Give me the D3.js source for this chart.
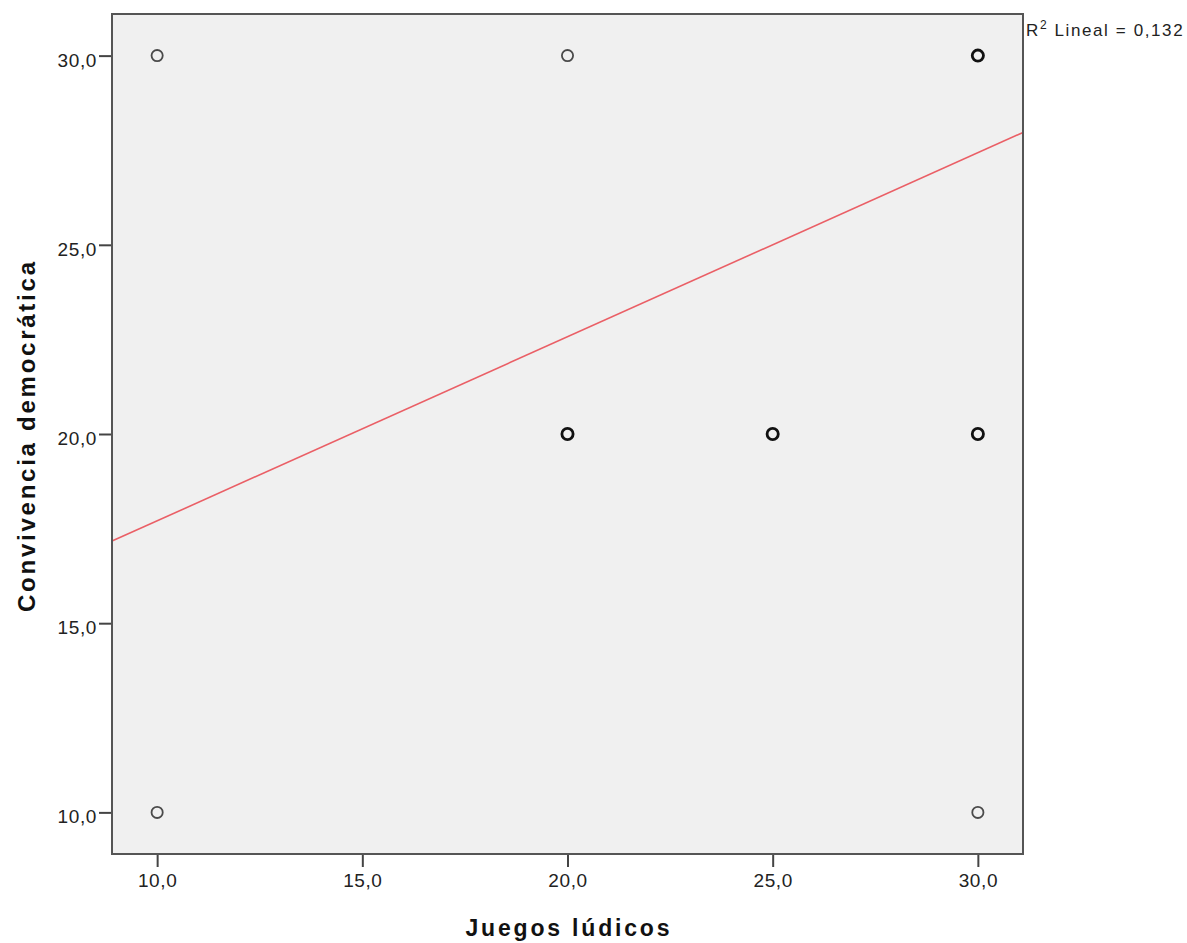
<!DOCTYPE html>
<meta charset="utf-8">
<script src="https://d3js.org/d3.v7.min.js"></script>
<style>
    body {margin: 0; background: #fff; font-family: 'Liberation Sans', Arial, sans-serif;}
    .tick text {font-size: 19px; letter-spacing: 0.6px; fill: #222;}
</style>
<body>
<svg width="1187" height="943"></svg>
<script>
    // data
    const juegos = [10, 10, 20, 20, 25, 30, 30, 30];
    const convivencia = [30, 10, 30, 20, 20, 30, 20, 10];
    const overlap = [1, 1, 1, 3, 2, 3, 3, 1];   // darker rings where cases stack
    const xTicks = [10, 15, 20, 25, 30];
    const yTicks = [10, 15, 20, 25, 30];
    const fitIntercept = [12.84];
    const fitSlope = [0.4865];
    const r2Label = ["0,132"];

    var svg = d3.select("svg"),
        pLeft = 112, pRight = 1023, pTop = 14, pBottom = 854;

    var x = d3.scaleLinear().domain([8.9, 31.1]).range([pLeft, pRight]);
    var y = d3.scaleLinear().domain([8.9, 31.1]).range([pBottom, pTop]);
    var fmt = d => d3.format(".1f")(d).replace(".", ",");

    svg.append("rect")
        .attr("x", pLeft).attr("y", pTop)
        .attr("width", pRight - pLeft).attr("height", pBottom - pTop)
        .attr("fill", "#f0f0f0");

    // regression line
    var xd = x.domain();
    svg.append("line")
        .attr("x1", x(xd[0])).attr("y1", y(fitIntercept[0] + fitSlope[0] * xd[0]))
        .attr("x2", x(xd[1])).attr("y2", y(fitIntercept[0] + fitSlope[0] * xd[1]))
        .attr("stroke", "#ea5f66")
        .attr("stroke-width", 1.6);

    var pts = juegos.map((d, i) => ({x: d, y: convivencia[i], n: overlap[i]}));
    svg.append("g").selectAll("circle")
        .data(pts)
        .enter().append("circle")
        .attr("cx", d => x(d.x))
        .attr("cy", d => y(d.y))
        .attr("r", 5.6)
        .attr("fill", "none")
        .attr("stroke", d => d.n > 1 ? "#111" : "#4a4a4a")
        .attr("stroke-width", d => d.n > 1 ? 2.8 : 1.8);

    var xAxis = svg.append("g")
        .attr("transform", "translate(0," + pBottom + ")")
        .call(d3.axisBottom(x).tickValues(xTicks).tickFormat(fmt).tickSize(13).tickPadding(7));
    var yAxis = svg.append("g")
        .attr("transform", "translate(" + pLeft + ",0)")
        .call(d3.axisLeft(y).tickValues(yTicks).tickFormat(fmt).tickSize(13).tickPadding(2));
    [xAxis, yAxis].forEach(function(a){
        a.attr("font-size", null).attr("font-family", null);
        a.select(".domain").remove();
        a.selectAll(".tick line").attr("stroke", "#444").attr("stroke-width", 2);
    });
    yAxis.selectAll(".tick text").attr("dy", "0.55em");

    // frame
    svg.append("rect")
        .attr("x", pLeft).attr("y", pTop)
        .attr("width", pRight - pLeft).attr("height", pBottom - pTop)
        .attr("fill", "none")
        .attr("stroke", "#555")
        .attr("stroke-width", 2);

    svg.append("text")
        .attr("x", (pLeft + pRight) / 2)
        .attr("y", 936)
        .attr("text-anchor", "middle")
        .attr("textLength", 204)
        .attr("lengthAdjust", "spacing")
        .style("font-size", "23px")
        .style("font-weight", "bold")
        .style("fill", "#111")
        .text("Juegos lúdicos");

    svg.append("text")
        .attr("transform", "translate(35," + ((pTop + pBottom) / 2 + 3) + ") rotate(-90)")
        .attr("text-anchor", "middle")
        .attr("textLength", 350)
        .attr("lengthAdjust", "spacing")
        .style("font-size", "24px")
        .style("font-weight", "bold")
        .style("fill", "#111")
        .text("Convivencia democrática");

    var r2 = svg.append("text")
        .attr("x", pRight + 3)
        .attr("y", 36)
        .style("font-size", "17px")
        .style("letter-spacing", "1.6px")
        .style("fill", "#222");
    r2.append("tspan").text("R");
    r2.append("tspan").attr("dy", -7).style("font-size", "12px").text("2");
    r2.append("tspan").attr("dy", 7).text(" Lineal = " + r2Label[0]);
</script>
</body>
